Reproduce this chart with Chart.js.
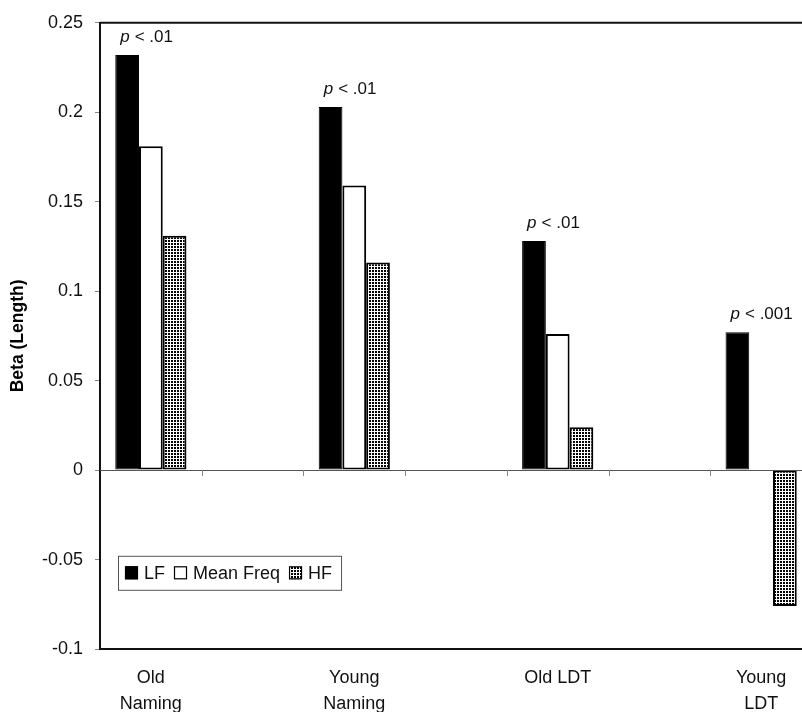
<!DOCTYPE html>
<html>
<head>
<meta charset="utf-8">
<script src="https://cdn.jsdelivr.net/npm/chart.js@4.4.1/dist/chart.umd.min.js"></script>
<style>
  html, body { margin: 0; padding: 0; background: #fff; overflow: hidden; }
  #wrap { width: 812px; height: 712px; }
</style>
</head>
<body>
<div id="wrap"><canvas id="chart" width="812" height="712"></canvas></div>
<script>
// categories (empty slots keep the spacing between groups)
const categories = [['Old', 'Naming'], '', ['Young', 'Naming'], '', 'Old LDT', '', ['Young', 'LDT']];
const seriesNames = ['LF', 'Mean Freq', 'HF'];
const lfValues = [0.232, null, 0.203, null, 0.128, null, 0.077];
const meanFreqValues = [0.181, null, 0.159, null, 0.076, null, null];
const hfValues = [0.131, null, 0.116, null, 0.024, null, -0.076];
const pLabels = ['< .01', null, '< .01', null, '< .01', null, '< .001'];
const yTickValues = [-0.1, -0.05, 0, 0.05, 0.1, 0.15, 0.2, 0.25];
const yTickLabels = ['-0.1', '-0.05', '0', '0.05', '0.1', '0.15', '0.2', '0.25'];

const FONT = '"Liberation Sans", Arial, sans-serif';

// dotted fill for HF bars
function makePattern() {
    const c = document.createElement('canvas');
    c.width = 3; c.height = 3;
    const g = c.getContext('2d');
    g.fillStyle = '#fff';
    g.fillRect(0, 0, 3, 3);
    g.fillStyle = '#000';
    g.fillRect(0, 0, 2, 2);
    return g.createPattern(c, 'repeat');
}
const hfPattern = makePattern();

const fills = ['#000', '#fff', hfPattern];

const extras = {
    id: 'extras',
    afterDatasetsDraw(chart) {
        const ctx = chart.ctx;
        const a = chart.chartArea;
        const y = chart.scales.y;
        const zeroY = y.getPixelForValue(0);
        const catW = (a.right - a.left) / categories.length;

        ctx.save();
        // frame
        ctx.strokeStyle = '#111';
        ctx.lineWidth = 2;
        ctx.beginPath();
        ctx.moveTo(a.left, a.top); ctx.lineTo(a.right, a.top);
        ctx.moveTo(a.left, a.bottom); ctx.lineTo(a.right, a.bottom);
        ctx.moveTo(a.left, a.top); ctx.lineTo(a.left, a.bottom);
        ctx.stroke();

        // zero line with category ticks
        ctx.strokeStyle = '#555';
        ctx.lineWidth = 1;
        ctx.beginPath();
        ctx.moveTo(a.left, Math.round(zeroY) + 0.5);
        ctx.lineTo(a.right, Math.round(zeroY) + 0.5);
        ctx.stroke();
        ctx.strokeStyle = '#888';
        ctx.beginPath();
        for (let k = 1; k < categories.length; k++) {
            const tx = Math.round(a.left + k * catW) + 0.5;
            ctx.moveTo(tx, zeroY);
            ctx.lineTo(tx, zeroY + 6);
        }
        ctx.stroke();

        // p-value notes above LF bars
        const lfMeta = chart.getDatasetMeta(0);
        ctx.fillStyle = '#111';
        ctx.textBaseline = 'middle';
        ctx.textAlign = 'left';
        pLabels.forEach((txt, i) => {
            if (!txt) return;
            const bar = lfMeta.data[i];
            let tx = bar.x - bar.width / 2 + 5;
            const ty = bar.y - 18;
            ctx.font = 'italic 17px ' + FONT;
            ctx.fillText('p', tx, ty);
            tx += ctx.measureText('p').width + 5;
            ctx.font = '17px ' + FONT;
            ctx.fillText(txt, tx, ty);
        });

        // legend box
        const lx = a.left + 18, ly = a.top + 533, lh = 34;
        ctx.font = '18px ' + FONT;
        let cx = lx + 7;
        const items = [];
        seriesNames.forEach((name, i) => {
            items.push({ x: cx, name, fill: fills[i] });
            cx += 13 + 6 + ctx.measureText(name).width + 9;
        });
        const lw = cx - 9 + 9 - lx;
        ctx.strokeStyle = '#555';
        ctx.lineWidth = 1;
        ctx.strokeRect(lx + 0.5, ly + 0.5, lw, lh);
        items.forEach(it => {
            const sy = ly + lh / 2 - 6.5;
            ctx.fillStyle = it.fill;
            ctx.fillRect(it.x, sy, 13, 13);
            ctx.strokeStyle = '#000';
            ctx.lineWidth = 1.2;
            ctx.strokeRect(it.x + 0.5, sy + 0.5, 12, 12);
            ctx.fillStyle = '#111';
            ctx.fillText(it.name, it.x + 19, ly + lh / 2 + 1);
        });
        ctx.restore();
    }
};

new Chart(document.getElementById('chart'), {
    type: 'bar',
    data: {
        labels: categories,
        datasets: [
            { label: seriesNames[0], data: lfValues, backgroundColor: fills[0], borderColor: '#000', borderWidth: 1, borderSkipped: false },
            { label: seriesNames[1], data: meanFreqValues, backgroundColor: fills[1], borderColor: '#000', borderWidth: 2, borderSkipped: false },
            { label: seriesNames[2], data: hfValues, backgroundColor: fills[2], borderColor: '#000', borderWidth: 2, borderSkipped: false }
        ]
    },
    options: {
        responsive: false,
        animation: false,
        skipNull: false,
        layout: { padding: { top: 22, right: 0, left: 0, bottom: 0 } },
        datasets: { bar: { categoryPercentage: 0.7, barPercentage: 1.0 } },
        plugins: {
            legend: { display: false },
            tooltip: { enabled: false }
        },
        scales: {
            x: {
                grid: { display: false },
                border: { display: false },
                ticks: {
                    color: '#111',
                    maxRotation: 0,
                    autoSkip: false,
                    padding: 8,
                    font: { family: FONT, size: 18, lineHeight: 1.44 }
                },
                afterFit(scale) { scale.height = 63; }
            },
            y: {
                min: -0.1,
                max: 0.25,
                afterBuildTicks(scale) {
                    scale.ticks = yTickValues.map(v => ({ value: v }));
                },
                grid: { drawOnChartArea: false, drawTicks: true, tickLength: 5, color: '#888' },
                border: { display: true, color: '#111', width: 2 },
                ticks: {
                    color: '#111',
                    padding: 12,
                    font: { family: FONT, size: 18 },
                    callback: (v) => yTickLabels[yTickValues.indexOf(v)] ?? ''
                },
                title: {
                    display: true,
                    text: 'Beta (Length)',
                    color: '#000',
                    font: { family: FONT, size: 17.5, weight: 'bold' },
                    padding: { top: 8, bottom: 0 }
                },
                afterFit(scale) { scale.width = 100; }
            }
        }
    },
    plugins: [extras]
});
</script>
</body>
</html>
